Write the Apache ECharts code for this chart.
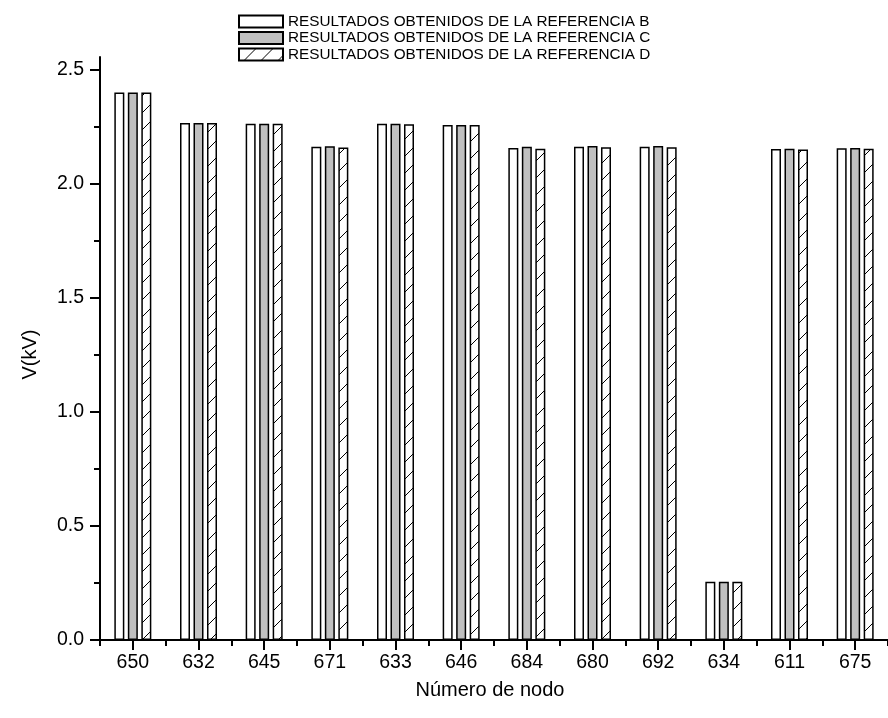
<!DOCTYPE html>
<html>
<head>
<meta charset="utf-8">
<script src="https://cdn.jsdelivr.net/npm/echarts@6/dist/echarts.min.js"></script>
<style>html,body{margin:0;padding:0;background:#fff;}#c{width:888px;height:718px;}</style>
</head>
<body>
<div id="c"></div>
<script>
const categories = ['650','632','645','671','633','646','684','680','692','634','611','675'];
const refB = [2.401, 2.268, 2.264, 2.163, 2.264, 2.259, 2.158, 2.163, 2.163, 0.256, 2.153, 2.157];
const refC = [2.401, 2.268, 2.264, 2.166, 2.264, 2.259, 2.163, 2.167, 2.167, 0.256, 2.155, 2.158];
const refD = [2.401, 2.268, 2.264, 2.160, 2.262, 2.259, 2.155, 2.161, 2.161, 0.255, 2.151, 2.155];
const seriesNames = ['RESULTADOS OBTENIDOS DE LA REFERENCIA B','RESULTADOS OBTENIDOS DE LA REFERENCIA C','RESULTADOS OBTENIDOS DE LA REFERENCIA D'];
const majorTicks = [0, 0.5, 1.0, 1.5, 2.0, 2.5];
const minorTicks = [0.25, 0.75, 1.25, 1.75, 2.25];

// hatch pattern
const s = 17;
const pc = document.createElement('canvas');
pc.width = s; pc.height = s;
const g = pc.getContext('2d');
g.fillStyle = '#fff'; g.fillRect(0,0,s,s);
g.strokeStyle = '#000'; g.lineWidth = 1;
g.beginPath();
g.moveTo(0, s); g.lineTo(s, 0);
g.moveTo(-2, 2); g.lineTo(2, -2);
g.moveTo(s-2, s+2); g.lineTo(s+2, s-2);
g.stroke();

const font = '"Liberation Sans", Arial, sans-serif';
const chart = echarts.init(document.getElementById('c'));
const barBase = {type:'bar', barWidth:10, barGap:'35%', xAxisIndex:0, yAxisIndex:0};
chart.setOption({
  animation:false,
  textStyle:{fontFamily:font},
  legend:{
    orient:'vertical', left:238, top:14, padding:0, icon:'rect',
    itemWidth:44, itemHeight:12, itemGap:1.5,
    textStyle:{fontFamily:font, fontSize:15.3, lineHeight:15, color:'#000', padding:[0,0,0,0]},
    data: seriesNames
  },
  grid:{left:100, right:-12, top:57, bottom:78, containLabel:false},
  xAxis:[{
    type:'category', data:categories, position:'bottom',
    name:'Número de nodo', nameLocation:'middle', nameGap:40,
    nameTextStyle:{fontFamily:font, fontSize:20, color:'#000', padding:[0,8,0,0]},
    axisLine:{show:true, lineStyle:{color:'#000', width:2}},
    axisTick:{show:true, alignWithLabel:true, length:10, lineStyle:{color:'#000', width:2}},
    axisLabel:{fontFamily:font, fontSize:19.5, color:'#000', margin:13}
  },{
    type:'category', data:categories, position:'bottom',
    axisLine:{show:false},
    axisTick:{show:true, alignWithLabel:false, length:6, lineStyle:{color:'#000', width:2}},
    axisLabel:{show:false}
  }],
  yAxis:[{
    type:'value', min:0, max:2.557, position:'left',
    name:'V(kV)', nameLocation:'middle', nameGap:60,
    nameTextStyle:{fontFamily:font, fontSize:20, color:'#000', padding:[0,12,0,0]},
    splitLine:{show:false},
    axisLine:{show:true, lineStyle:{color:'#000', width:2}},
    axisTick:{show:true, length:10, customValues:majorTicks, lineStyle:{color:'#000', width:2}},
    axisLabel:{fontFamily:font, fontSize:19.5, color:'#000', margin:16, customValues:majorTicks,
      formatter:function(v){return v.toFixed(1);}}
  },{
    type:'value', min:0, max:2.557, position:'left',
    splitLine:{show:false},
    axisLine:{show:false},
    axisTick:{show:true, length:6, customValues:minorTicks, lineStyle:{color:'#000', width:2}},
    axisLabel:{show:false}
  }],
  series:[
    Object.assign({}, barBase, {name:seriesNames[0], data:refB,
      itemStyle:{color:'#ffffff', borderColor:'#000', borderWidth:1.5}}),
    Object.assign({}, barBase, {name:seriesNames[1], data:refC,
      itemStyle:{color:'#c0c0c0', borderColor:'#000', borderWidth:1.5}}),
    Object.assign({}, barBase, {name:seriesNames[2], data:refD,
      itemStyle:{color:{image:pc, repeat:'repeat'}, borderColor:'#000', borderWidth:1.5}})
  ]
});
</script>
</body>
</html>
